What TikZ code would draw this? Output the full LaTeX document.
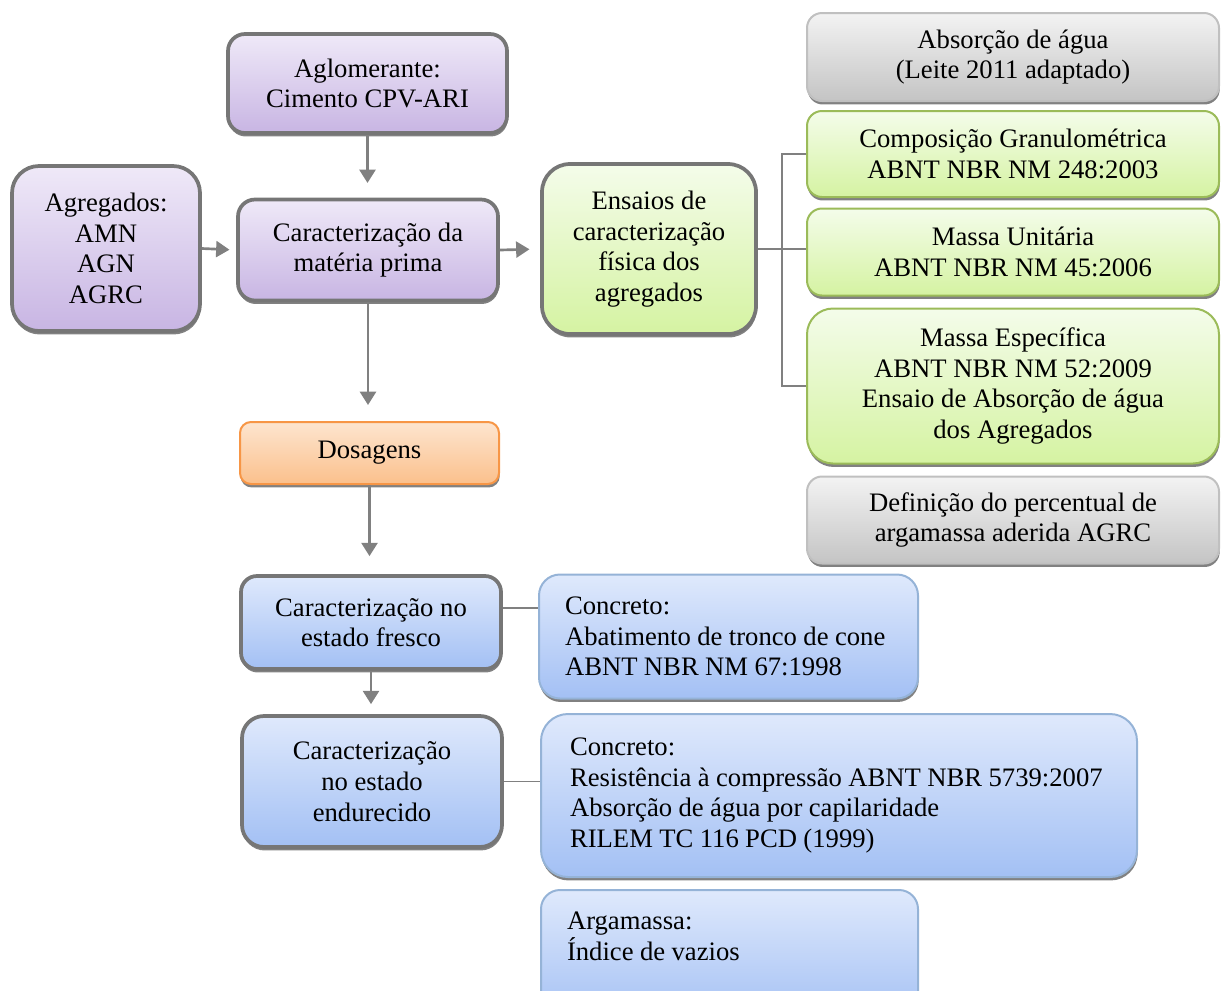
\documentclass[tikz,border=0pt]{standalone}
\usepackage{fontspec}
\setmainfont{Liberation Serif}
\usetikzlibrary{shadows,arrows.meta}

\definecolor{edgegray}{HTML}{767676}
\definecolor{linkgray}{HTML}{808080}
\definecolor{purpletop}{HTML}{EFE9F8}
\definecolor{purplebot}{HTML}{C8B5E3}
\definecolor{greentop}{HTML}{F4FCEA}
\definecolor{greenbot}{HTML}{D5F3A2}
\definecolor{greenedge}{HTML}{9BBB59}
\definecolor{graytop}{HTML}{F3F3F3}
\definecolor{graybot}{HTML}{C4C4C4}
\definecolor{grayedge}{HTML}{C0C0C0}
\definecolor{orangetop}{HTML}{FDE5CF}
\definecolor{orangebot}{HTML}{FBC08C}
\definecolor{orangeedge}{HTML}{F79646}
\definecolor{bluetop}{HTML}{DFE9FC}
\definecolor{bluebot}{HTML}{A3C0F4}
\definecolor{blueedge}{HTML}{95B3D7}

% fixed word spaces for the left-aligned description boxes
\DeclareRobustCommand\tightspaces{\spaceskip=0.24em\relax}

\tikzset{
  sz/.style n args={2}{minimum width=#1*0.75pt, minimum height=#2*0.75pt},
  rc/.style={rounded corners=#1*0.75pt},
  box/.style={inner sep=0pt, align=center,
    font=\fontsize{20}{23}\selectfont,
    drop shadow={shadow xshift=0.5pt, shadow yshift=-2.6pt, opacity=0.7, fill=black!70}},
  heavy/.style={box, draw=edgegray, line width=2.8pt},
  light/.style={box, line width=1.5pt},
  purplebox/.style={heavy, top color=purpletop, bottom color=purplebot},
  greenmain/.style={heavy, top color=greentop, bottom color=greenbot},
  greenbox/.style={light, draw=greenedge, top color=greentop, bottom color=greenbot},
  graybox/.style={light, draw=grayedge, top color=graytop, bottom color=graybot},
  orangebox/.style={light, draw=orangeedge, top color=orangetop, bottom color=orangebot},
  bluemain/.style={heavy, top color=bluetop, bottom color=bluebot},
  bluebox/.style={light, draw=blueedge, top color=bluetop, bottom color=bluebot, align=left},
  flow/.style={draw=linkgray, line width=2pt, -{Triangle[width=12pt,length=10pt]}},
  link/.style={draw=linkgray, line width=1.4pt}
}

\begin{document}
\begin{tikzpicture}[x=0.75pt,y=-0.75pt]
\useasboundingbox (0,0) rectangle (1221,990);

% left column
\node[purplebox, sz={188}{165}, rc=27] (agr) at (106,248.5)
  {Agregados:\\AMN\\AGN\\AGRC};
\node[purplebox, sz={279}{99}, rc=17] (aglo) at (367.5,83.5)
  {Aglomerante:\\Cimento CPV-ARI};
\node[purplebox, sz={260}{101}, rc=17] (carac) at (368,250)
  {Caracterização da\\matéria prima};
\node[greenmain, sz={214}{170}, rc=28] (ens) at (649,249)
  {Ensaios de\\caracterização\\física dos\\agregados};

% tests on the aggregates
\node[graybox, sz={412}{88}, rc=15] (abs) at (1013,57)
  {Absorção de água\\(Leite 2011 adaptado)};
\node[greenbox, sz={412}{86}, rc=15] (comp) at (1013,154)
  {Composição Granulométrica\\ABNT NBR NM 248:2003};
\node[greenbox, sz={412}{87}, rc=15] (mu) at (1013,252)
  {Massa Unitária\\ABNT NBR NM 45:2006};
\node[greenbox, sz={412}{155}, rc=26] (me) at (1013,386)
  {Massa Específica\\ABNT NBR NM 52:2009\\Ensaio de Absorção de água\\dos Agregados};
\node[graybox, sz={412}{87}, rc=15] (defi) at (1013,520)
  {Definição do percentual de\\argamassa aderida AGRC};

% mix design and concrete tests
\node[orangebox, sz={259}{62}, rc=11] (dos) at (369.5,453) {Dosagens};
\node[bluemain, sz={260}{93}, rc=16] (fre) at (371,622.5)
  {Caracterização no\\estado fresco};
\node[bluebox, sz={379}{124}, rc=21, inner xsep=19.5pt, text width=245.25pt] (cab) at (728.5,636.5)
  {\tightspaces\mbox{Concreto:}\\\mbox{Abatimento de tronco de cone}\\\mbox{ABNT NBR NM 67:1998}};
\node[bluemain, sz={260}{131}, rc=22] (endu) at (372,781.5)
  {Caracterização\\no estado\\endurecido};
\node[bluebox, sz={596}{163}, rc=27, inner xsep=21.75pt, text width=403.5pt] (cres) at (839,795.5)
  {\tightspaces\mbox{Concreto:}\\\mbox{Resistência à compressão ABNT NBR 5739:2007}\\\mbox{Absorção de água por capilaridade}\\\mbox{RILEM TC 116 PCD (1999)}};
\node[bluebox, sz={377}{132}, rc=19, inner xsep=19.5pt, text width=243.75pt] (arg) at (729.5,956)
  {\tightspaces\mbox{Argamassa:}\\\mbox{Índice de vazios}\\\strut};

% flow arrows
\draw[flow, shorten >=11pt] (aglo.south) -- (aglo.south |- carac.north);
\draw[flow, shorten >=5pt] (agr.east) -- (carac.west);
\draw[flow, shorten >=8pt] (carac.east) -- (ens.west);
\draw[flow, shorten >=12pt] (carac.south) -- (carac.south |- dos.north);
\draw[flow, shorten >=13.5pt] (dos.south) -- (dos.south |- fre.north);
\draw[flow, shorten >=7.5pt] (fre.south) -- (fre.south |- endu.north);

% bracket joining the aggregate tests
\draw[link] (ens.east) -- (ens.east -| mu.west);
\draw[link] (comp.west) -- ++(-24,0) |- (me.west);

% links to the concrete test boxes
\path (fre.east) ++(0,-14.5) coordinate (fretap);
\draw[link] (fretap) -- (fretap -| cab.west);
\draw[link] (endu.east) -- (endu.east -| cres.west);
\end{tikzpicture}
\end{document}
